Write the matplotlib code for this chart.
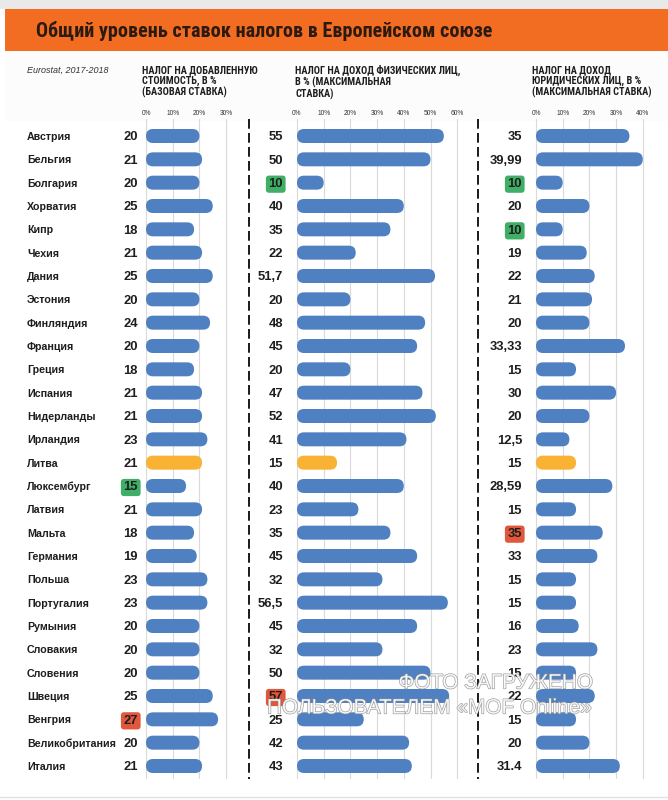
import matplotlib
matplotlib.use('Agg')
import matplotlib.pyplot as plt
from matplotlib.patches import FancyBboxPatch, Rectangle
import matplotlib.patheffects as pe
from matplotlib import font_manager

# ---------------- data ----------------
countries = ['Австрия', 'Бельгия', 'Болгария', 'Хорватия', 'Кипр', 'Чехия', 'Дания',
             'Эстония', 'Финляндия', 'Франция', 'Греция', 'Испания', 'Нидерланды',
             'Ирландия', 'Литва', 'Люксембург', 'Латвия', 'Мальта', 'Германия', 'Польша',
             'Португалия', 'Румыния', 'Словакия', 'Словения', 'Швеция', 'Венгрия',
             'Великобритания', 'Италия']

vat = [20, 21, 20, 25, 18, 21, 25, 20, 24, 20, 18, 21, 21, 23, 21, 15, 21, 18, 19, 23,
       23, 20, 20, 20, 25, 27, 20, 21]
vat_labels = [str(v) for v in vat]

pit = [55, 50, 10, 40, 35, 22, 51.7, 20, 48, 45, 20, 47, 52, 41, 15, 40, 23, 35, 45, 32,
       56.5, 45, 32, 50, 57, 25, 42, 43]
pit_labels = ['55', '50', '10', '40', '35', '22', '51,7', '20', '48', '45', '20', '47',
              '52', '41', '15', '40', '23', '35', '45', '32', '56,5', '45', '32', '50',
              '57', '25', '42', '43']

# bar lengths as drawn in the picture (Malta and Germany bars are shorter than their labels)
cit = [35, 39.99, 10, 20, 10, 19, 22, 21, 20, 33.33, 15, 30, 20, 12.5, 15, 28.59, 15, 25,
       23, 15, 15, 16, 23, 15, 22, 15, 20, 31.4]
cit_labels = ['35', '39,99', '10', '20', '10', '19', '22', '21', '20', '33,33', '15', '30',
              '20', '12,5', '15', '28,59', '15', '35', '33', '15', '15', '16', '23', '15',
              '22', '15', '20', '31.4']

vat_ticks = [0, 10, 20, 30]
pit_ticks = [0, 10, 20, 30, 40, 50, 60]
cit_ticks = [0, 10, 20, 30, 40]

highlight_country = 'Литва'
vat_green, vat_red = ['Люксембург'], ['Венгрия']
pit_green, pit_red = ['Болгария'], ['Швеция']
cit_green, cit_red = ['Болгария', 'Кипр'], ['Мальта']

title = 'Общий уровень ставок налогов в Европейском союзе'
source = 'Eurostat, 2017-2018'
headers = ['НАЛОГ НА ДОБАВЛЕННУЮ\nСТОИМОСТЬ, В %\n(БАЗОВАЯ СТАВКА)',
           'НАЛОГ НА ДОХОД ФИЗИЧЕСКИХ ЛИЦ,\nВ % (МАКСИМАЛЬНАЯ\nСТАВКА)',
           'НАЛОГ НА ДОХОД\nЮРИДИЧЕСКИХ ЛИЦ, В %\n(МАКСИМАЛЬНАЯ СТАВКА)']
watermark = ['ФОТО ЗАГРУЖЕНО', 'ПОЛЬЗОВАТЕЛЕМ «MOF Online»']

# ---------------- styles ----------------
BLUE = '#4f80c1'
YELLOW = '#f9b233'
GREEN = '#3fae66'
RED = '#e0573b'
ORANGE = '#f26c22'
TXT = '#1e1e1e'
GRID = '#dadada'

avail = {f.name for f in font_manager.fontManager.ttflist}
def pick(*names):
    for n in names:
        if n in avail:
            return n
    return 'DejaVu Sans'

NARROW = pick('Liberation Sans Narrow', 'Roboto Condensed', 'Liberation Sans')
MAIN = pick('Liberation Sans', 'Roboto', 'DejaVu Sans')

W, H = 668, 800
fig = plt.figure(figsize=(W / 100, H / 100), dpi=100)
fig.patch.set_facecolor('white')

bg = fig.add_axes([0, 0, 1, 1], zorder=0)
bg.set_xlim(0, W)
bg.set_ylim(H, 0)
bg.axis('off')

# header decorations
bg.add_patch(Rectangle((0, 0), W, 9, fc='#e9e9e9', ec='none'))
bg.add_patch(Rectangle((5, 9), W - 5, 42, fc=ORANGE, ec='none'))
bg.add_patch(Rectangle((5, 51), W - 5, 70, fc='#fcfcfc', ec='none'))
bg.plot([0, W], [797, 797], color='#e3e3e3', lw=1)
bg.text(36, 31, title, fontsize=14.5, fontweight='bold', family=NARROW, color='#2a1a10',
        va='center', ha='left')
bg.text(27, 70, source, fontsize=6.5, style='italic', family=MAIN, color='#333333',
        va='center', ha='left')

# panel geometry
ROW0, ROWH = 136.0, 630.0 / 27
TOP, BOT = 119, 779
S = 2.67  # pixels per percentage point
panels = [
    dict(zero=146, left=140, right=236, vals=vat, labels=vat_labels, ticks=vat_ticks,
         green=vat_green, red=vat_red, off=8, header=headers[0], hx=142),
    dict(zero=297, left=291, right=464, vals=pit, labels=pit_labels, ticks=pit_ticks,
         green=pit_green, red=pit_red, off=14, header=headers[1], hx=295),
    dict(zero=536, left=530, right=650, vals=cit, labels=cit_labels, ticks=cit_ticks,
         green=cit_green, red=cit_red, off=14, header=headers[2], hx=532),
]

bh = 14.0 / ROWH
for k, p in enumerate(panels):
    ax = fig.add_axes([p['left'] / W, 1 - BOT / H, (p['right'] - p['left']) / W,
                       (BOT - TOP) / H], zorder=1)
    ax.set_facecolor('none')
    ax.set_xlim((p['left'] - p['zero']) / S, (p['right'] - p['zero']) / S)
    ax.set_ylim((BOT - ROW0) / ROWH, (TOP - ROW0) / ROWH)
    for sp in ax.spines.values():
        sp.set_visible(False)
    ax.xaxis.tick_top()
    ax.set_xticks(p['ticks'])
    ax.set_xticklabels([f'{t}%' for t in p['ticks']], fontsize=4.8, family=MAIN,
                       color='#333333')
    ax.tick_params(axis='x', length=0, pad=1.5)
    ax.grid(axis='x', color=GRID, lw=0.8, zorder=0)
    ax.set_axisbelow(True)
    if k == 0:
        ax.set_yticks(range(len(countries)))
        ax.set_yticklabels(countries, fontsize=7.7, fontweight='bold', family=MAIN,
                           color=TXT, ha='left', va='center_baseline')
        ax.tick_params(axis='y', length=0, pad=(p['left'] - 27) * 0.72)
    else:
        ax.set_yticks([])
    ma = S / ROWH
    r = 7.0 / S
    for i, (c, v, lab) in enumerate(zip(countries, p['vals'], p['labels'])):
        col = YELLOW if c == highlight_country else BLUE
        ax.add_patch(FancyBboxPatch((0, i - bh / 2), v, bh,
                                    boxstyle=f'round,pad=0,rounding_size={r}',
                                    mutation_aspect=ma, fc=col, ec='none', zorder=2))
        box = None
        if c in p['green']:
            box = dict(boxstyle='round,pad=0.2,rounding_size=0.25', fc=GREEN, ec='none')
        elif c in p['red']:
            box = dict(boxstyle='round,pad=0.2,rounding_size=0.25', fc=RED, ec='none')
        ax.annotate(lab, xy=(0, i), xycoords='data', xytext=(-p['off'], 0),
                    textcoords='offset pixels', ha='right', va='center_baseline',
                    fontsize=9.4, fontweight='bold', family=MAIN, color=TXT, bbox=box,
                    annotation_clip=False, zorder=3)
    bg.text(p['hx'], 65, p['header'], fontsize=7.4, fontweight='bold', family=NARROW,
            color=TXT, va='top', ha='left', linespacing=1.08)

# dashed separators
for x in (249, 478):
    bg.plot([x, x], [TOP, BOT], color='#1a1a1a', lw=1.4, ls=(0, (5, 2.2)))

# watermark
fx = pe.withStroke(linewidth=0.9, foreground=(0.55, 0.55, 0.55, 0.5))
fig.text(496 / W, 1 - 683 / H, watermark[0], fontsize=15, family=MAIN, color='white',
         alpha=0.85, ha='center', va='center', path_effects=[fx], zorder=5)
fig.text(430 / W, 1 - 708 / H, watermark[1], fontsize=15, family=MAIN, color='white',
         alpha=0.85, ha='center', va='center', path_effects=[fx], zorder=5)

fig.savefig('out.png', dpi=100, facecolor='white')
